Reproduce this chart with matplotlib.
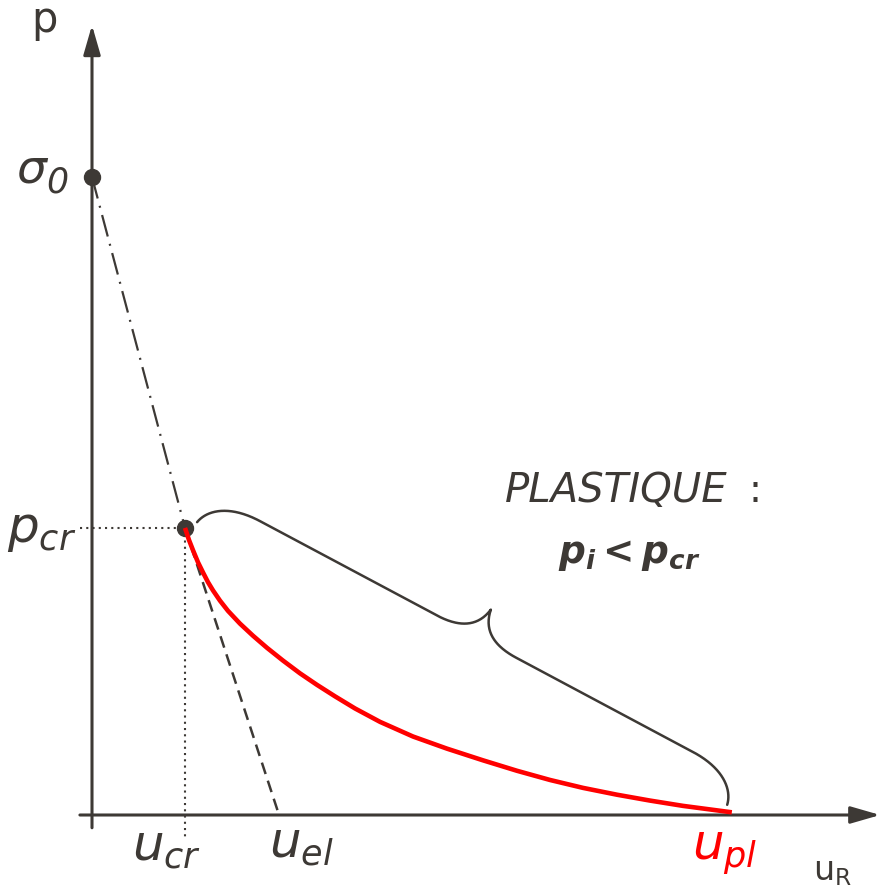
import numpy as np
import matplotlib.pyplot as plt

plt.rcParams['font.family'] = ['DejaVu Sans']
plt.rcParams['mathtext.fontset'] = 'custom'
plt.rcParams['mathtext.rm'] = 'DejaVu Sans'
plt.rcParams['mathtext.it'] = 'DejaVu Sans:italic'
plt.rcParams['mathtext.bf'] = 'DejaVu Sans:bold:italic'

INK = '#3d3935'
RED = '#ff0000'

# u is scaled so that u_cr = 1, p so that sigma_0 = 1
sigma_0 = 1.0
p_cr = 0.45
u_cr = 1.0
u_el = 2.0
u_pl = 6.88

# plastic branch, from (u_cr, p_cr) down to u_pl
u_plastic = [1.000, 1.043, 1.086, 1.140, 1.194, 1.247, 1.301, 1.376, 1.462,
             1.591, 1.731, 1.882, 2.054, 2.237, 2.419, 2.613, 2.828, 3.097,
             3.452, 3.817, 4.204, 4.570, 4.925, 5.280, 5.645, 6.000, 6.355,
             6.880]
p_plastic = [0.450, 0.431, 0.415, 0.396, 0.380, 0.365, 0.352, 0.336, 0.320,
             0.300, 0.281, 0.262, 0.242, 0.222, 0.204, 0.186, 0.167, 0.146,
             0.123, 0.104, 0.0857, 0.0693, 0.0549, 0.0425, 0.0318, 0.0226,
             0.0143, 0.0042]

# brace over the plastic zone
brace_from = (1.13, 0.459)
brace_to = (6.83, 0.016)


def bezier(p0, p1, p2, p3, n=60):
    t = np.linspace(0, 1, n)[:, None]
    p0, p1, p2, p3 = map(np.asarray, (p0, p1, p2, p3))
    return ((1 - t) ** 3 * p0 + 3 * (1 - t) ** 2 * t * p1
            + 3 * (1 - t) * t ** 2 * p2 + t ** 3 * p3)


def draw_brace(ax, p0, p1, depth=61, flat=30.5, **kw):
    """Curly brace from p0 to p1 (data coords), bulging to the left of
    p0->p1. Shape is built in pixels (along, normal) then mapped back."""
    a = ax.transData.transform(p0)
    b = ax.transData.transform(p1)
    d = b - a
    L = np.hypot(*d)
    t = d / L
    nrm = np.array([-t[1], t[0]])
    H = L / 2
    half = np.vstack([
        bezier((0, 0), (3, flat * 0.5), (20, flat), (55, flat)),
        bezier((55, flat), (H * 0.5, flat), (H * 0.7, flat), (H - 45, flat)),
        bezier((H - 45, flat), (H - 25, flat), (H - 4, flat + 5.5), (H, depth)),
    ])
    other = half[::-1].copy()
    other[:, 0] = L - other[:, 0]
    loc = np.vstack([half, other])
    pts = a + np.outer(loc[:, 0], t) + np.outer(loc[:, 1], nrm)
    uv = ax.transData.inverted().transform(pts)
    ax.plot(uv[:, 0], uv[:, 1], solid_capstyle='round', **kw)


fig = plt.figure(figsize=(8.81, 8.91), dpi=100)
ax = fig.add_axes([0, 0, 1, 1])
ax.set_xlim(-92 / 93, 789 / 93)
ax.set_ylim(-76 / 638, 815 / 638)
ax.axis('off')

# axes with arrow heads
arrow = dict(arrowstyle='-|>,head_length=0.9,head_width=0.26',
             color=INK, lw=2.2, shrinkA=0, shrinkB=0, mutation_scale=20)
ax.annotate('', xy=(0, 1.238), xytext=(0, -0.02), arrowprops=arrow)
ax.annotate('', xy=(8.475, 0), xytext=(-0.13, 0), arrowprops=arrow)

# elastic line: dash-dot down to p_cr, dashed beyond
ax.plot([0, u_cr], [sigma_0, p_cr], color=INK, lw=1.6,
        dashes=(10, 3.4, 0.9, 3.4))
ax.plot([u_cr, u_el], [p_cr, 0.005], color=INK, lw=1.8, dashes=(4.8, 2.8))

# guides to p_cr / u_cr
ax.plot([-0.13, u_cr], [p_cr, p_cr], color=INK, lw=1.5, dashes=(1, 2))
ax.plot([u_cr, u_cr], [p_cr, -0.036], color=INK, lw=1.5, dashes=(1, 2))

ax.plot([0, u_cr], [sigma_0, p_cr], 'o', ms=11.5, color=INK, zorder=5)

ax.plot(u_plastic, p_plastic, color=RED, lw=3.3, solid_capstyle='butt',
        solid_joinstyle='round', zorder=6)

draw_brace(ax, brace_from, brace_to, color=INK, lw=1.8)

# labels
ax.text(-0.516, 1.227, 'p', color=INK, fontsize=30, ha='center',
        va='baseline')
ax.text(-0.806, 0.992, 'σ', color=INK, fontsize=34, style='italic',
        ha='left', va='baseline')
ax.text(-0.49, 0.975, '0', color=INK, fontsize=25, style='italic',
        ha='left', va='baseline')
ax.text(-0.172, 0.428, r'$p_{cr}$', color=INK, fontsize=36, ha='right',
        va='baseline')
ax.text(0.806, -0.0705, r'$u_{cr}$', color=INK, fontsize=36, ha='center',
        va='baseline')
ax.text(2.247, -0.067, r'$u_{el}$', color=INK, fontsize=36, ha='center',
        va='baseline')
ax.text(6.806, -0.0705, r'$u_{pl}$', color=RED, fontsize=36, ha='center',
        va='baseline')
ax.text(7.957, -0.102, r'$\mathrm{u}_{\mathrm{R}}$', color=INK, fontsize=24,
        ha='center', va='baseline')

ax.text(5.634, 0.4906, 'PLASTIQUE', color=INK, fontsize=29, style='italic',
        ha='center', va='baseline')
ax.text(7.13, 0.4906, ':', color=INK, fontsize=28, ha='center',
        va='baseline')
ax.text(5.774, 0.395, r'$\mathbf{p}_{\mathbf{i}}\mathbf{<}\mathbf{p}_{\mathbf{cr}}$',
        color=INK, fontsize=27, ha='center', va='baseline')

fig.savefig('out.png', dpi=100)
